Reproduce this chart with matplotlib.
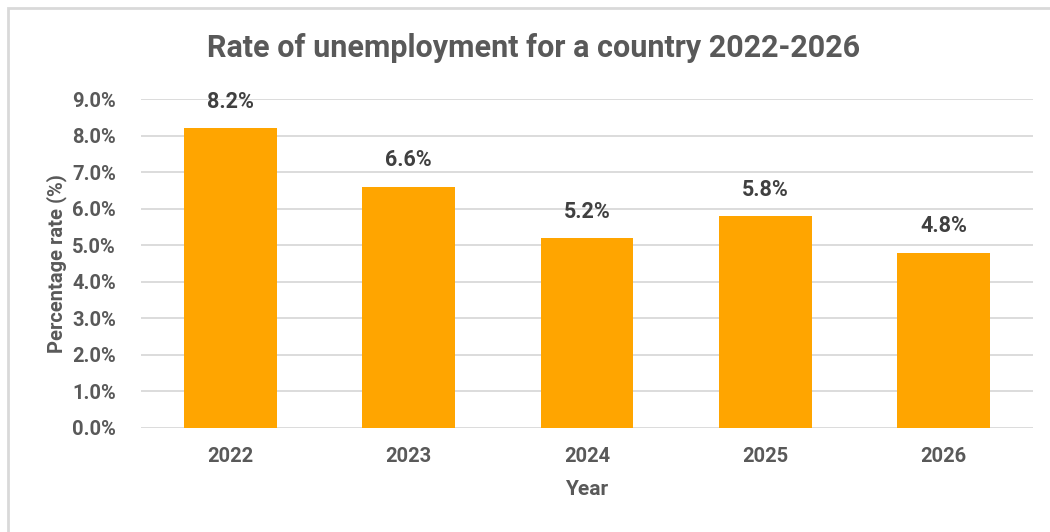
import matplotlib.pyplot as plt
from matplotlib.patches import Rectangle
from matplotlib.ticker import FuncFormatter

years = ["2022", "2023", "2024", "2025", "2026"]
rates = [8.2, 6.6, 5.2, 5.8, 4.8]
y_ticks = [0, 1, 2, 3, 4, 5, 6, 7, 8, 9]

text_grey = "#595959"
bar_orange = "#FFA500"

plt.rcParams["font.family"] = ["Roboto", "DejaVu Sans"]

fig = plt.figure(figsize=(10.5, 5.32), dpi=100)
ax = fig.add_axes([0.1343, 0.1955, 0.8495, 0.6184])

# chart frame, open on the right and bottom
fig.patches.append(Rectangle((8 / 1050, -0.1), 1.2, 1 - 8 / 532 + 0.1,
                             transform=fig.transFigure, fill=False,
                             edgecolor="#D9D9D9", linewidth=2))

x = range(len(years))
bars = ax.bar(x, rates, width=0.52, color=bar_orange, zorder=3)

for b, r in zip(bars, rates):
    ax.annotate(f"{r:.1f}%", (b.get_x() + b.get_width() / 2, r),
                xytext=(0, 19), textcoords="offset points",
                ha="center", va="center", fontsize=15.5,
                fontweight="bold", color="#404040")

ax.set_xlim(-0.5, len(years) - 0.5)
ax.set_ylim(0, 9)
ax.set_yticks(y_ticks)
ax.yaxis.set_major_formatter(FuncFormatter(lambda v, _: f"{v:.1f}%"))
ax.set_xticks(list(x))
ax.set_xticklabels(years)

ax.grid(axis="y", color="#D9D9D9", linewidth=1.3, zorder=0)
for s in ax.spines.values():
    s.set_visible(False)
ax.tick_params(length=0, labelsize=14.5, labelcolor=text_grey)
ax.tick_params(axis="y", pad=18)
ax.tick_params(axis="x", pad=14)
for lbl in ax.get_xticklabels() + ax.get_yticklabels():
    lbl.set_fontweight("bold")

ax.set_xlabel("Year", fontsize=15, fontweight="bold", color=text_grey, labelpad=10)
ax.set_ylabel("Percentage rate (%)", fontsize=14.5, fontweight="bold",
              color=text_grey, labelpad=4)

fig.text(0.508, 0.91, "Rate of unemployment for a country 2022-2026",
         ha="center", va="center", fontsize=22, fontweight="bold",
         color=text_grey)

fig.savefig("out.png", dpi=100, facecolor="white")
